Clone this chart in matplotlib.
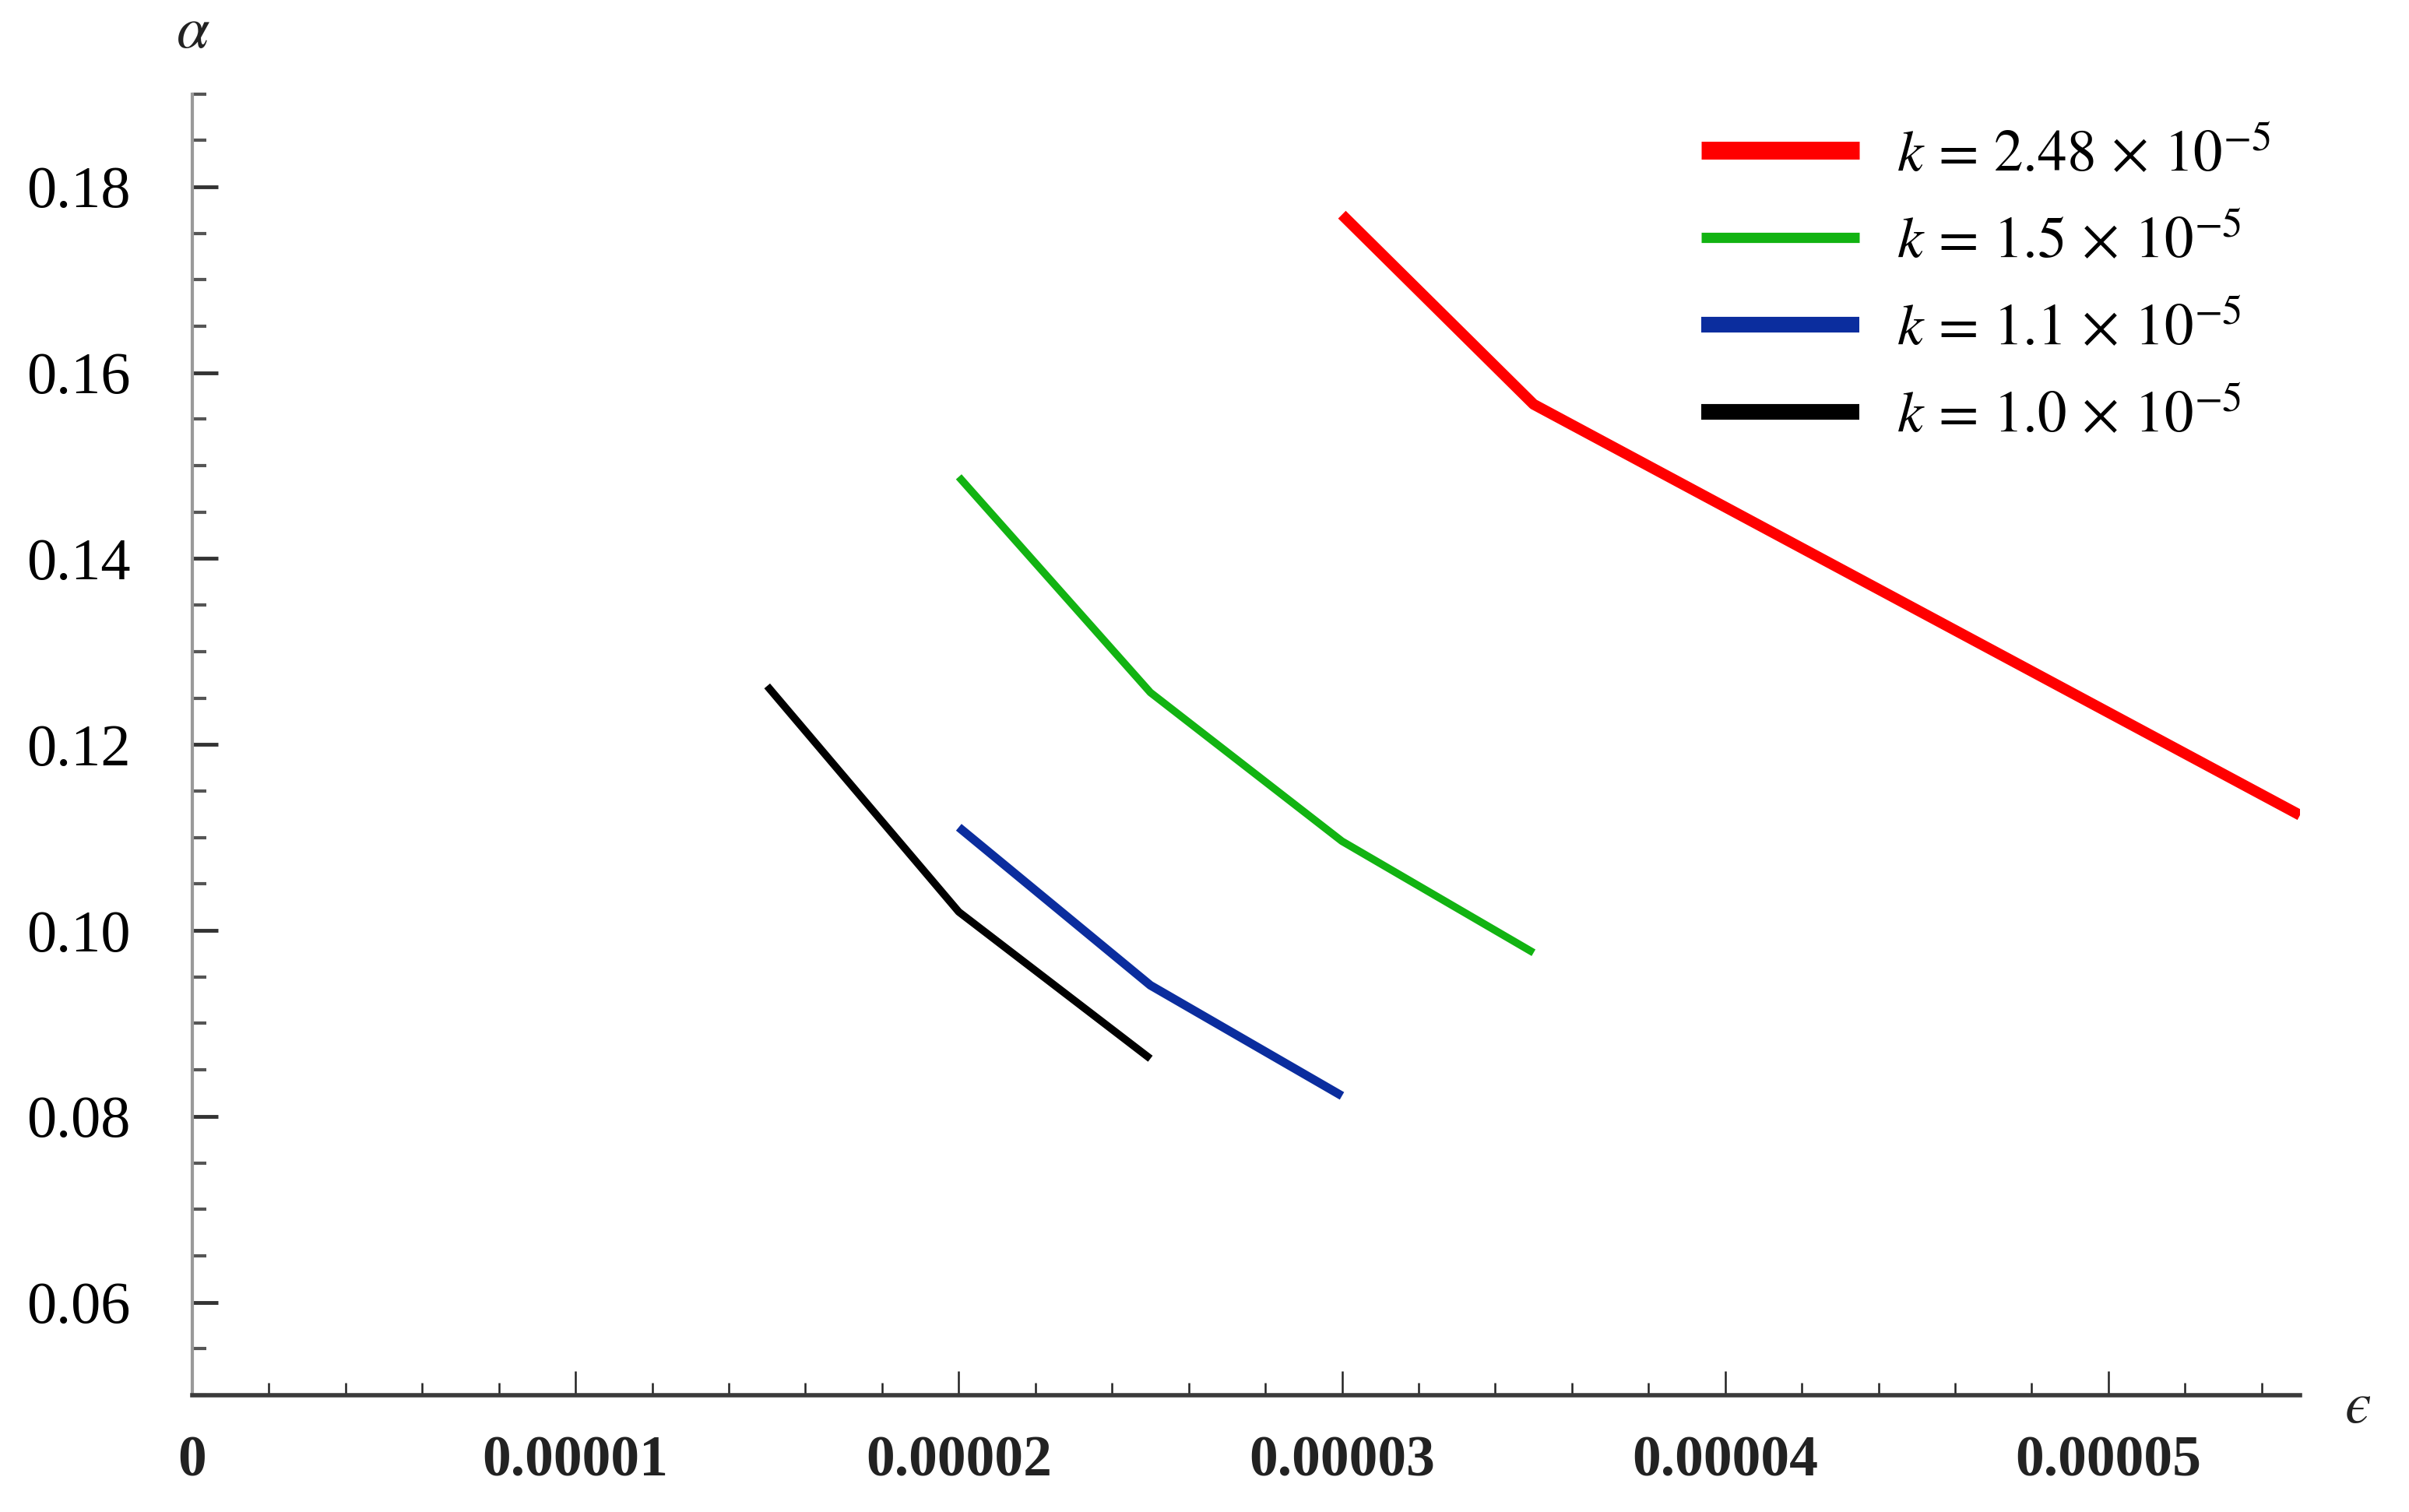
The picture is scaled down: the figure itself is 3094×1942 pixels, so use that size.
import matplotlib
matplotlib.use("Agg")
import matplotlib.pyplot as plt
from matplotlib.lines import Line2D
from matplotlib.ticker import MultipleLocator, FixedLocator

plt.rcParams['font.family'] = ['Liberation Serif', 'DejaVu Serif']
plt.rcParams['mathtext.fontset'] = 'stix'

# data
eps_red = [3.0e-5, 3.5e-5, 5.5e-5]
alpha_red = [0.177, 0.1566, 0.1124]
eps_green = [2.0e-5, 2.5e-5, 3.0e-5, 3.5e-5]
alpha_green = [0.1488, 0.1256, 0.1096, 0.0976]
eps_blue = [2.0e-5, 2.5e-5, 3.0e-5]
alpha_blue = [0.1111, 0.0941, 0.0822]
eps_black = [1.5e-5, 2.0e-5, 2.5e-5]
alpha_black = [0.1263, 0.1020, 0.0862]

labels = [r'$k\,=\,2.48\,\times\,10^{-5}$', r'$k\,=\,1.5\,\times\,10^{-5}$',
          r'$k\,=\,1.1\,\times\,10^{-5}$', r'$k\,=\,1.0\,\times\,10^{-5}$']
xticks = [0, 1e-5, 2e-5, 3e-5, 4e-5, 5e-5]
xticklabels = ['0', '0.00001', '0.00002', '0.00003', '0.00004', '0.00005']
yticks = [0.06, 0.08, 0.10, 0.12, 0.14, 0.16, 0.18]
yticklabels = ['0.06', '0.08', '0.10', '0.12', '0.14', '0.16', '0.18']

W, H = 3094, 1942
fig = plt.figure(figsize=(W / 100, H / 100), dpi=100)
ax = fig.add_axes([247 / W, 1 - 1792 / H, (2954 - 247) / W, (1792 - 120.5) / H])

RED = '#ff0000'
GREEN = '#12b312'
BLUE = '#0b2d9e'
BLACK = '#000000'

kw = dict(solid_capstyle='butt', solid_joinstyle='round')
ax.plot(eps_red, alpha_red, color=RED, lw=10, **kw)
ax.plot(eps_green, alpha_green, color=GREEN, lw=7, **kw)
ax.plot(eps_blue, alpha_blue, color=BLUE, lw=8, **kw)
ax.plot(eps_black, alpha_black, color=BLACK, lw=7, **kw)

ax.set_xlim(0, 5.5e-5)
ax.set_ylim(0.05, 0.19)

for s in ['top', 'right']:
    ax.spines[s].set_visible(False)
ax.spines['bottom'].set_color('#3a3a3a')
ax.spines['bottom'].set_linewidth(4)
ax.spines['left'].set_color('#9a9a9a')
ax.spines['left'].set_linewidth(3)

ax.xaxis.set_major_locator(FixedLocator(xticks))
ax.set_xticklabels(xticklabels, fontsize=53, fontweight='bold', color='#222222')
ax.xaxis.set_minor_locator(MultipleLocator(2e-6))
ax.yaxis.set_major_locator(FixedLocator(yticks))
ax.set_yticklabels(yticklabels, fontsize=55)
ax.yaxis.set_minor_locator(MultipleLocator(0.005))

ax.tick_params(axis='x', which='major', direction='in', length=22, width=1.8,
               color='#222222', pad=37)
ax.tick_params(axis='x', which='minor', direction='in', length=11.5, width=1.8,
               color='#222222')
ax.tick_params(axis='y', which='major', direction='in', length=24, width=3.5,
               color='#333333', pad=57)
ax.tick_params(axis='y', which='minor', direction='in', length=13, width=3,
               color='#555555')

fig.text(248 / W, 1 - 42 / H, r'$\alpha$', fontsize=55, ha='center', va='center',
         color='#222222')
fig.text(3028 / W, 1 - 1808 / H, '$\u03f5$', fontsize=55, ha='center', va='center',
         color='#222222')

handles = [Line2D([], [], color=RED, lw=16.5, solid_capstyle='butt'),
           Line2D([], [], color=GREEN, lw=9.5, solid_capstyle='butt'),
           Line2D([], [], color=BLUE, lw=14.5, solid_capstyle='butt'),
           Line2D([], [], color=BLACK, lw=14.5, solid_capstyle='butt')]
fig.legend(handles, labels, loc='upper left', bbox_to_anchor=(2185 / W, 1 - 165 / H),
           frameon=False, fontsize=54, handlelength=2.7, handletextpad=0.65,
           labelspacing=0.55, borderpad=0, borderaxespad=0)

fig.savefig('out.png', dpi=100, facecolor='white')
